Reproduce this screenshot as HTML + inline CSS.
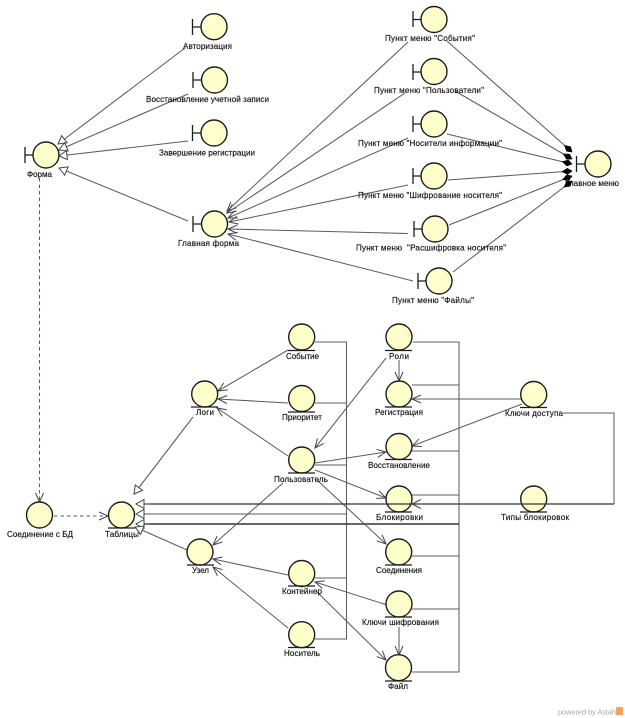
<!DOCTYPE html>
<html><head><meta charset="utf-8">
<style>
html,body{margin:0;padding:0;background:#fff;width:625px;height:718px;overflow:hidden}
svg{display:block;filter:blur(.35px)}
text{font-family:"Liberation Sans","DejaVu Sans",sans-serif;font-size:8.1px;fill:#111;stroke:#111;stroke-width:.15px}
.l{stroke:#5c5c5c;stroke-width:1.05;fill:none}
.c{fill:#ffffcc;stroke:#1c1c1c;stroke-width:1.4}
.b{stroke:#1c1c1c;stroke-width:1.3;fill:none}
</style></head><body>
<svg width="625" height="718" viewBox="0 0 625 718" xmlns="http://www.w3.org/2000/svg">
<defs>
<marker id="o" markerUnits="userSpaceOnUse" markerWidth="14" markerHeight="12" refX="11" refY="6" orient="auto"><path d="M2,2 L11,6 L2,10" fill="none" stroke="#444" stroke-width="1"/></marker>
<marker id="t" markerUnits="userSpaceOnUse" markerWidth="14" markerHeight="14" refX="12" refY="7" orient="auto"><path d="M12,7 L4,2.5 L4,11.5 Z" fill="#fff" stroke="#444" stroke-width="1"/></marker>
<marker id="d" markerUnits="userSpaceOnUse" markerWidth="14" markerHeight="10" refX="12" refY="5" orient="auto"><path d="M12,5 L7.5,2 L2,5 L7.5,8 Z" fill="#000" stroke="#000" stroke-width=".6"/></marker>
</defs>

<!-- orthogonal buses -->
<g class="l">
<path d="M315,342H346.500V639H315"/>
<path d="M315,403H346.500M315,465H346.500M315,578H346.500"/>
<path d="M413,342H459V672H412"/>
<path d="M412,385H459M412,451H459M412,495H459M412,556H459M412,609H459"/>
<path d="M563,413H614V504"/>
<path d="M136,514H347"/>
<path d="M136,524H459" stroke-width="1.4" stroke="#333"/>
</g>

<!-- generalizations -->
<g class="l">
<line x1="185" y1="48" x2="58" y2="144" marker-end="url(#t)"/>
<line x1="188" y1="94" x2="59" y2="150" marker-end="url(#t)"/>
<line x1="188" y1="141" x2="59" y2="156" marker-end="url(#t)"/>
<line x1="188" y1="221" x2="59" y2="168" marker-end="url(#t)"/>
<line x1="193" y1="417" x2="134" y2="494" marker-end="url(#t)"/>
<line x1="150" y1="514" x2="136" y2="514" marker-end="url(#t)"/>
<line x1="150" y1="524" x2="136" y2="524" marker-end="url(#t)"/>
<line x1="187" y1="550" x2="135" y2="527" marker-end="url(#t)"/>
</g>

<!-- dependencies -->
<g class="l" stroke-dasharray="3.500 3">
<line x1="39.500" y1="178" x2="39.500" y2="502" marker-end="url(#o)"/>
<line x1="54" y1="516" x2="108" y2="516" marker-end="url(#o)"/>
</g>

<!-- menu to main form -->
<g class="l">
<line x1="408" y1="42" x2="227" y2="211" marker-end="url(#o)"/>
<line x1="405" y1="93" x2="227" y2="213" marker-end="url(#o)"/>
<line x1="408" y1="138" x2="228" y2="218" marker-end="url(#o)"/>
<line x1="408" y1="185" x2="229" y2="222" marker-end="url(#o)"/>
<line x1="408" y1="233.500" x2="228" y2="229" marker-end="url(#o)"/>
<line x1="413" y1="281" x2="228" y2="234" marker-end="url(#o)"/>
</g>

<!-- menu aggregation -->
<g class="l">
<line x1="447" y1="41" x2="572" y2="152" marker-end="url(#d)"/>
<line x1="455" y1="91" x2="572" y2="159" marker-end="url(#d)"/>
<line x1="447" y1="134" x2="572" y2="164" marker-end="url(#d)"/>
<line x1="448" y1="180" x2="572" y2="171" marker-end="url(#d)"/>
<line x1="449" y1="225" x2="572" y2="176" marker-end="url(#d)"/>
<line x1="453" y1="272" x2="572" y2="181" marker-end="url(#d)"/>
</g>

<!-- entity arrows -->
<g class="l">
<line x1="288" y1="350" x2="218" y2="391" marker-end="url(#o)"/>
<line x1="288" y1="403" x2="218" y2="399" marker-end="url(#o)"/>
<line x1="288" y1="456" x2="217" y2="408" marker-end="url(#o)"/>
<line x1="283" y1="483" x2="213" y2="545" marker-end="url(#o)"/>
<line x1="386" y1="358" x2="315" y2="448" marker-end="url(#o)"/>
<line x1="399" y1="360" x2="399" y2="381" marker-end="url(#o)"/>
<line x1="315" y1="463" x2="386" y2="452" marker-end="url(#o)"/>
<line x1="315" y1="470" x2="386" y2="498" marker-end="url(#o)"/>
<line x1="317" y1="480" x2="386" y2="544" marker-end="url(#o)"/>
<line x1="521" y1="399" x2="412" y2="399" marker-end="url(#o)"/>
<line x1="522" y1="404" x2="412" y2="446" marker-end="url(#o)"/>
<line x1="288" y1="575" x2="213" y2="559" marker-end="url(#o)"/>
<line x1="288" y1="628" x2="213" y2="567" marker-end="url(#o)"/>
<line x1="387" y1="605" x2="315" y2="582" marker-end="url(#o)"/>
<line x1="317" y1="592" x2="386" y2="660" marker-end="url(#o)"/>
<line x1="399" y1="627" x2="399" y2="655" marker-end="url(#o)"/>
</g>

<!-- boundaries -->
<g>
<path class="b" d="M192.500,19V35M192.500,27H201"/><circle class="c" cx="214" cy="26.700" r="13"/>
<path class="b" d="M193,72V88M193,80H201"/><circle class="c" cx="214.500" cy="80" r="13"/>
<path class="b" d="M192.500,125V141M192.500,133H201"/><circle class="c" cx="214" cy="133" r="13"/>
<path class="b" d="M25,147V163M25,155H33"/><circle class="c" cx="46" cy="155" r="13"/>
<path class="b" d="M193,216V232M193,224H201"/><circle class="c" cx="214.500" cy="224" r="13"/>
<path class="b" d="M413,11V27M413,19.500H421"/><circle class="c" cx="434" cy="19.500" r="13"/>
<path class="b" d="M413,64V80M413,72H421"/><circle class="c" cx="434" cy="71.500" r="13"/>
<path class="b" d="M413,116V132M413,124H421"/><circle class="c" cx="434" cy="124" r="13"/>
<path class="b" d="M413,168V184M413,176H421"/><circle class="c" cx="434" cy="176" r="13"/>
<path class="b" d="M414,221V237M414,229H422"/><circle class="c" cx="435" cy="229" r="13"/>
<path class="b" d="M418,273V289M418,281H426"/><circle class="c" cx="439" cy="281" r="13"/>
<path class="b" d="M576.500,156V172M576.500,164H585"/><circle class="c" cx="598" cy="164" r="13"/>
</g>

<!-- entities -->
<g>
<circle class="c" cx="301.700" cy="337" r="13"/><path class="b" d="M288,350.500H315"/>
<circle class="c" cx="301.700" cy="398.500" r="13"/><path class="b" d="M288,412H315"/>
<circle class="c" cx="204.700" cy="394" r="13"/><path class="b" d="M191,407H218"/>
<circle class="c" cx="301.700" cy="460" r="13"/><path class="b" d="M288,473H315"/>
<circle class="c" cx="39.500" cy="515" r="13"/>
<circle class="c" cx="121.500" cy="515" r="13"/><path class="b" d="M108,528H135"/>
<circle class="c" cx="200" cy="552" r="13"/><path class="b" d="M187,565H214"/>
<circle class="c" cx="301.700" cy="573.500" r="13"/><path class="b" d="M288,586H315"/>
<circle class="c" cx="301.700" cy="634.700" r="13"/><path class="b" d="M288,647.500H315"/>
<circle class="c" cx="399" cy="337" r="13"/><path class="b" d="M385,350.500H412"/>
<circle class="c" cx="399" cy="394" r="13"/><path class="b" d="M385,407H412"/>
<circle class="c" cx="399" cy="446.500" r="13"/><path class="b" d="M385,459.500H412"/>
<circle class="c" cx="399" cy="499" r="13"/><path class="b" d="M385,512H412"/>
<circle class="c" cx="398.700" cy="552" r="13"/><path class="b" d="M385,565H412"/>
<circle class="c" cx="399" cy="604" r="13"/><path class="b" d="M385,617H412"/>
<circle class="c" cx="398.500" cy="667.700" r="13"/><path class="b" d="M385,681H412"/>
<circle class="c" cx="533.700" cy="394.500" r="13"/><path class="b" d="M520,407.500H547"/>
<circle class="c" cx="533.700" cy="499" r="13"/><path class="b" d="M520,512H547"/>
</g>

<!-- long line drawn over the circles -->
<line x1="136" y1="504" x2="614" y2="504" stroke="#333" stroke-width="1.2" marker-start="none"/>
<line x1="150" y1="504" x2="136" y2="504" class="l" marker-end="url(#t)"/>
<path d="M421,499.500 L412,504 L421,508.500" fill="none" stroke="#444" stroke-width="1"/>

<!-- labels -->
<g>
<text x="183" y="49" textLength="49">Авторизация</text>
<text x="146" y="102" textLength="123">Восстановление учетной записи</text>
<text x="159" y="155.500" textLength="96">Завершение регистрации</text>
<text x="27" y="177" textLength="25">Форма</text>
<text x="178" y="246" textLength="61">Главная форма</text>
<text x="385" y="41" textLength="90">Пункт меню "События"</text>
<text x="374" y="93" textLength="110">Пункт меню "Пользователи"</text>
<text x="358" y="146" textLength="144">Пункт меню "Носители информации"</text>
<text x="358" y="198" textLength="144">Пункт меню "Шифрование носителя"</text>
<text x="356" y="250.500" textLength="150" xml:space="preserve">Пункт меню  "Расшифровка носителя"</text>
<text x="392" y="303" textLength="82">Пункт меню "Файлы"</text>
<text x="565" y="186" textLength="54">Главное меню</text>
<text x="286" y="359" textLength="33">Событие</text>
<text x="282" y="420" textLength="40">Приоритет</text>
<text x="196" y="415" textLength="18">Логи</text>
<text x="274" y="482" textLength="54">Пользователь</text>
<text x="7" y="537" textLength="66">Соединение с БД</text>
<text x="105" y="537" textLength="34">Таблицы</text>
<text x="389" y="359" textLength="20">Роли</text>
<text x="375" y="415" textLength="48">Регистрация</text>
<text x="368" y="468" textLength="62">Восстановление</text>
<text x="376" y="520" textLength="47">Блокировки</text>
<text x="505" y="416" textLength="58">Ключи доступа</text>
<text x="501" y="520" textLength="68">Типы блокировок</text>
<text x="192" y="573" textLength="17">Узел</text>
<text x="282" y="594" textLength="40">Контейнер</text>
<text x="284" y="656" textLength="36">Носитель</text>
<text x="376" y="573" textLength="46">Соединения</text>
<text x="362" y="625" textLength="77">Ключи шифрования</text>
<text x="388" y="689" textLength="20">Файл</text>
<text x="558" y="714.500" textLength="58" style="font-size:7.500px;fill:#aaa;stroke:none">powered by Astah</text>
</g>
<rect x="616" y="707" width="7" height="8" fill="#f4a460"/>
</svg>
</body></html>
